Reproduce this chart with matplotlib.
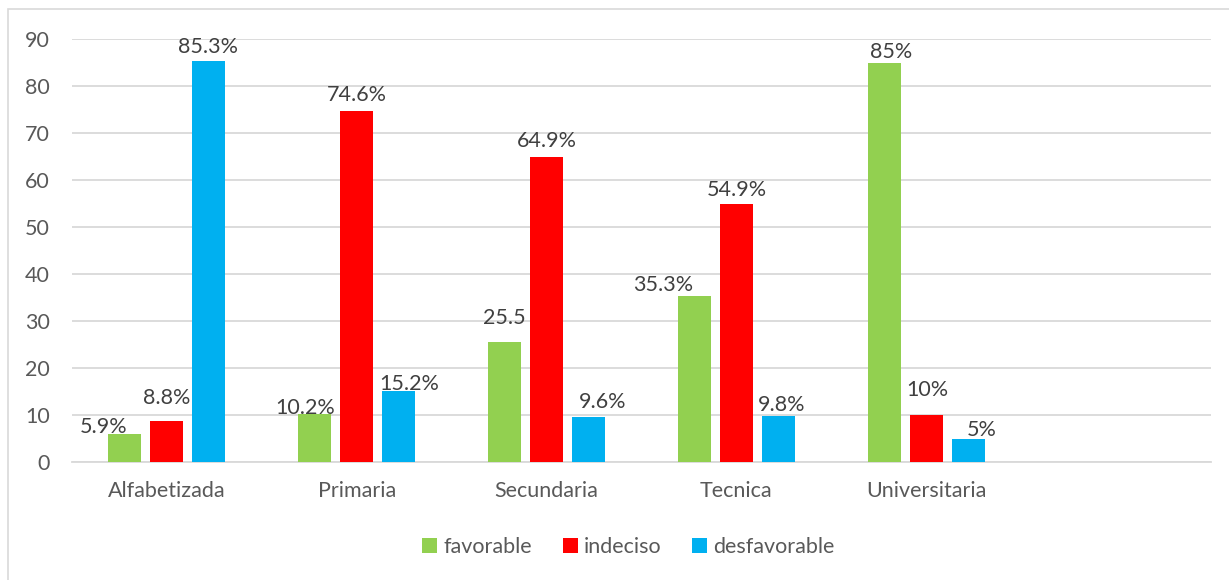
import numpy as np
import matplotlib
matplotlib.use("Agg")
import matplotlib.pyplot as plt
from matplotlib.patches import Rectangle

plt.rcParams['font.family'] = ['Lato', 'DejaVu Sans']

# data
categories = ["Alfabetizada", "Primaria", "Secundaria", "Tecnica", "Universitaria", ""]
favorable = [5.9, 10.2, 25.5, 35.3, 85.0]
indeciso = [8.8, 74.6, 64.9, 54.9, 10.0]
desfavorable = [85.3, 15.2, 9.6, 9.8, 5.0]
fav_labels = ["5.9%", "10.2%", "25.5", "35.3%", "85%"]
ind_labels = ["8.8%", "74.6%", "64.9%", "54.9%", "10%"]
des_labels = ["85.3%", "15.2%", "9.6%", "9.8%", "5%"]

# label nudges (pixels), mimicking the hand-placed labels of the original
fav_off = [(-21, 1), (-10, 0), (0, 18), (-31, 5), (7, 5)]
ind_off = [(0, 17), (0, 10), (0, 10), (0, 8), (1, 19)]
des_off = [(-1, 8), (11, 1), (14, 9), (3, 5), (14, 2)]

colors = ["#92D050", "#FF0000", "#00B0F0"]
text_col = "#595959"
grid_col = "#D9D9D9"
fs = 15.5

fig = plt.figure(figsize=(12.29, 5.8), dpi=100)
ax = fig.add_axes([72 / 1229, 1 - 462 / 580, (1211 - 72) / 1229, (462 - 39) / 580])

# chart border
fig.patches.append(Rectangle((8 / 1229, -0.05), 1.1, 1 - 9 / 580 + 0.05,
                             transform=fig.transFigure, fill=False,
                             edgecolor=grid_col, linewidth=1.2))

x = np.arange(len(favorable))
w = 0.174
step = 0.221
series = [(favorable, fav_labels, fav_off, "favorable"),
          (indeciso, ind_labels, ind_off, "indeciso"),
          (desfavorable, des_labels, des_off, "desfavorable")]
for k, (vals, labs, offs, name) in enumerate(series):
    xs = x + (k - 1) * step
    ax.bar(xs, vals, width=w, color=colors[k], label=name, zorder=3)
    for xi, v, lab, (dx, dy) in zip(xs, vals, labs, offs):
        ax.annotate(lab, (xi, v), xytext=(dx, dy), textcoords='offset pixels',
                    ha='center', va='baseline', fontsize=fs, color="#404040")

ax.set_xlim(-0.5, len(categories) - 0.5)
ax.set_ylim(0, 90)
ax.set_yticks(range(0, 91, 10))
ax.set_xticks(range(len(categories)))
ax.set_xticklabels(categories)
ax.yaxis.grid(True, color=grid_col, linewidth=1.3, zorder=0)
ax.set_axisbelow(True)
for s in ["top", "right", "left"]:
    ax.spines[s].set_visible(False)
ax.spines["bottom"].set_color(grid_col)
ax.spines["bottom"].set_linewidth(1.3)
ax.tick_params(axis='y', length=0, pad=16, labelsize=fs, labelcolor=text_col)
ax.tick_params(axis='x', length=0, pad=14, labelsize=fs, labelcolor=text_col)

leg = fig.legend(loc='center', bbox_to_anchor=(628.5 / 1229, 1 - 547 / 580), ncol=3,
                 frameon=False, fontsize=fs, handlelength=0.7, handleheight=0.7,
                 handletextpad=0.3, columnspacing=1.4)
for t in leg.get_texts():
    t.set_color(text_col)

fig.savefig("out.png", dpi=100)
